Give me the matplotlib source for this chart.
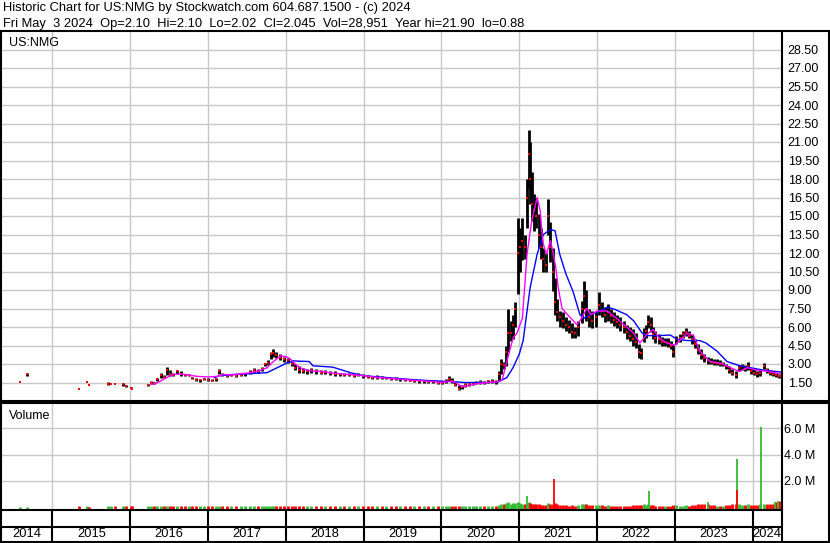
import matplotlib
matplotlib.use("Agg")
import matplotlib.pyplot as plt
import numpy as np

# ---- price bars (fractional year, high, low, close) and volume in millions ----
dates = [2014.59, 2014.68, 2015.34, 2015.44, 2015.47, 2015.72, 2015.76, 2015.80, 2015.91, 2015.95, 2016.01, 2016.02,
         2016.23, 2016.27, 2016.31, 2016.35, 2016.39, 2016.43, 2016.47, 2016.51, 2016.55, 2016.60, 2016.65, 2016.70,
         2016.75, 2016.80, 2016.85, 2016.90, 2016.95,
         2017.00, 2017.05, 2017.10, 2017.14, 2017.18, 2017.24, 2017.30, 2017.36, 2017.42, 2017.48, 2017.54, 2017.59,
         2017.64, 2017.69, 2017.73, 2017.77, 2017.81, 2017.84, 2017.88, 2017.93, 2017.98,
         2018.03, 2018.08, 2018.12, 2018.17, 2018.22, 2018.27, 2018.33, 2018.39, 2018.45, 2018.51, 2018.57, 2018.63,
         2018.69, 2018.75, 2018.81, 2018.87, 2018.93, 2018.99,
         2019.05, 2019.11, 2019.17, 2019.23, 2019.29, 2019.35, 2019.41, 2019.47, 2019.53, 2019.59, 2019.65, 2019.71,
         2019.77, 2019.83, 2019.89, 2019.95,
         2020.01, 2020.06, 2020.10, 2020.14, 2020.18, 2020.22, 2020.26, 2020.30, 2020.35, 2020.40, 2020.45, 2020.50,
         2020.55, 2020.60, 2020.65, 2020.70, 2020.74, 2020.77, 2020.80, 2020.83, 2020.86, 2020.89, 2020.92, 2020.95,
         2020.98,
         2021.01, 2021.04, 2021.07, 2021.10, 2021.12, 2021.14, 2021.16, 2021.19, 2021.22, 2021.25, 2021.28, 2021.31,
         2021.34, 2021.37, 2021.40, 2021.43, 2021.46, 2021.49, 2021.52, 2021.56, 2021.60, 2021.64, 2021.68, 2021.72,
         2021.76, 2021.80, 2021.83, 2021.86, 2021.90, 2021.94, 2021.98,
         2022.02, 2022.06, 2022.10, 2022.14, 2022.18, 2022.22, 2022.26, 2022.30, 2022.34, 2022.38, 2022.42, 2022.46,
         2022.50, 2022.54, 2022.57, 2022.60, 2022.63, 2022.66, 2022.69, 2022.72, 2022.75, 2022.79, 2022.83, 2022.87,
         2022.91, 2022.95, 2022.98,
         2023.02, 2023.06, 2023.10, 2023.14, 2023.18, 2023.22, 2023.26, 2023.30, 2023.34, 2023.38, 2023.42, 2023.46,
         2023.50, 2023.54, 2023.58, 2023.62, 2023.66, 2023.70, 2023.74, 2023.78, 2023.82, 2023.86, 2023.90, 2023.94,
         2023.98,
         2024.02, 2024.06, 2024.10, 2024.14, 2024.18, 2024.22, 2024.26, 2024.30, 2024.34, 2024.36]

highs = [1.57, 2.25, 1.00, 1.57, 1.32, 1.55, 1.40, 1.40, 1.45, 1.30, 1.10, 1.00,
         1.35, 1.60, 1.55, 1.90, 2.30, 2.10, 2.75, 2.50, 2.30, 2.55, 2.40, 2.20, 2.20, 1.95, 1.90, 1.80, 1.85,
         1.85, 1.75, 1.85, 2.60, 2.30, 2.20, 2.20, 2.15, 2.20, 2.30, 2.50, 2.70, 2.60, 2.75, 3.10, 3.30, 4.00, 4.20,
         4.00, 3.80, 3.60,
         3.50, 3.30, 3.00, 2.80, 2.70, 2.60, 2.70, 2.60, 2.50, 2.50, 2.40, 2.40, 2.30, 2.30, 2.25, 2.20, 2.30, 2.20,
         2.10, 2.00, 2.10, 2.00, 1.95, 1.90, 1.95, 1.85, 1.80, 1.80, 1.75, 1.70, 1.70, 1.65, 1.70, 1.60,
         1.60, 1.75, 2.00, 1.90, 1.60, 1.30, 1.30, 1.45, 1.50, 1.55, 1.60, 1.70, 1.65, 1.70, 1.75, 1.70, 2.40, 3.40,
         3.20, 4.50, 7.50, 6.50, 7.00, 8.00, 14.8,
         14.0, 14.8, 13.5, 18.0, 22.0, 21.0, 18.6, 16.8, 16.5, 15.2, 14.0, 12.4, 12.0, 16.4, 14.5, 12.4, 10.0, 8.3,
         7.3, 7.2, 6.8, 6.6, 6.3, 6.0, 6.5, 8.1, 9.7, 9.0, 7.5, 7.3, 7.2,
         8.8, 8.0, 7.6, 7.9, 7.5, 7.2, 7.0, 6.8, 6.5, 6.2, 6.0, 5.8, 5.5, 4.6, 4.3, 5.9, 6.2, 7.0, 6.8, 6.0, 5.7,
         5.4, 5.2, 5.1, 5.1, 4.9, 4.6,
         5.3, 5.4, 5.7, 5.9, 5.7, 5.4, 5.0, 4.6, 4.2, 3.8, 3.6, 3.5, 3.4, 3.4, 3.3, 3.2, 3.0, 2.8, 2.6, 2.4, 2.9,
         3.0, 2.9, 3.2, 2.7,
         2.6, 2.4, 2.5, 3.1, 2.7, 2.5, 2.4, 2.3, 2.2, 2.1]

lows = [1.57, 2.00, 1.00, 1.57, 1.32, 1.30, 1.35, 1.35, 1.25, 1.15, 1.05, 0.95,
        1.25, 1.40, 1.40, 1.60, 1.90, 1.85, 2.10, 2.00, 2.00, 2.20, 2.05, 2.00, 2.05, 1.80, 1.60, 1.55, 1.70,
        1.60, 1.60, 1.65, 2.20, 2.00, 1.95, 2.00, 1.95, 2.00, 2.05, 2.20, 2.30, 2.30, 2.40, 2.80, 2.90, 3.40, 3.60,
        3.50, 3.30, 3.20,
        3.10, 2.80, 2.50, 2.30, 2.30, 2.20, 2.30, 2.20, 2.20, 2.20, 2.10, 2.00, 2.00, 2.00, 2.00, 1.95, 2.00, 1.90,
        1.85, 1.80, 1.80, 1.75, 1.75, 1.70, 1.70, 1.65, 1.60, 1.60, 1.55, 1.50, 1.50, 1.45, 1.45, 1.40,
        1.40, 1.50, 1.60, 1.50, 1.20, 0.88, 0.95, 1.15, 1.20, 1.30, 1.35, 1.40, 1.40, 1.45, 1.45, 1.40, 1.60, 2.20,
        2.60, 2.80, 4.00, 4.90, 5.00, 6.00, 8.70,
        10.5, 11.4, 11.5, 14.0, 17.3, 16.0, 14.6, 13.8, 14.0, 12.4, 11.5, 10.5, 10.5, 13.5, 11.3, 8.9, 7.0, 6.5,
        6.0, 5.9, 5.7, 5.5, 5.1, 5.1, 5.3, 6.3, 7.5, 6.5, 6.0, 5.9, 6.0,
        7.0, 6.8, 6.4, 6.5, 6.3, 6.1, 5.9, 5.7, 5.5, 5.0, 4.9, 4.5, 4.3, 3.5, 3.4, 4.8, 5.1, 5.9, 5.6, 5.0, 4.7,
        4.6, 4.5, 4.5, 4.4, 4.2, 3.6,
        4.6, 4.8, 5.1, 5.3, 5.1, 4.6, 4.3, 3.8, 3.4, 3.2, 3.0, 3.0, 2.9, 2.9, 2.8, 2.8, 2.6, 2.3, 2.1, 1.87, 2.4,
        2.5, 2.4, 2.5, 2.2,
        2.1, 1.95, 2.0, 2.6, 2.3, 2.1, 2.0, 1.95, 1.9, 2.02]

closes = [1.57, 2.20, 1.00, 1.57, 1.32, 1.40, 1.40, 1.35, 1.35, 1.20, 1.05, 1.00,
          1.30, 1.50, 1.45, 1.80, 2.10, 1.95, 2.50, 2.20, 2.10, 2.40, 2.20, 2.10, 2.10, 1.90, 1.70, 1.70, 1.80,
          1.70, 1.65, 1.80, 2.40, 2.10, 2.05, 2.10, 2.00, 2.10, 2.20, 2.35, 2.50, 2.45, 2.60, 3.00, 3.10, 3.80, 3.90,
          3.70, 3.50, 3.40,
          3.30, 3.00, 2.70, 2.50, 2.40, 2.40, 2.50, 2.40, 2.30, 2.35, 2.25, 2.20, 2.20, 2.10, 2.10, 2.05, 2.10, 2.00,
          1.95, 1.90, 1.90, 1.85, 1.85, 1.80, 1.75, 1.75, 1.70, 1.65, 1.65, 1.60, 1.60, 1.55, 1.60, 1.50,
          1.50, 1.60, 1.80, 1.60, 1.30, 1.00, 1.15, 1.30, 1.35, 1.45, 1.50, 1.55, 1.50, 1.60, 1.60, 1.55, 2.20, 3.00,
          2.90, 4.00, 5.50, 5.50, 6.20, 7.50, 12.0,
          12.5, 13.0, 12.5, 16.5, 20.0, 18.0, 16.0, 15.5, 15.0, 13.5, 12.5, 11.5, 11.0, 15.0, 12.5, 10.5, 8.0, 7.2,
          6.8, 6.5, 6.2, 6.0, 5.6, 5.5, 6.0, 7.5, 8.5, 7.5, 6.8, 6.5, 6.8,
          7.8, 7.3, 7.0, 7.2, 6.9, 6.6, 6.4, 6.2, 6.0, 5.6, 5.3, 5.0, 4.8, 4.0, 3.9, 5.4, 5.7, 6.4, 6.2, 5.4, 5.1,
          5.0, 4.8, 4.8, 4.7, 4.5, 4.0,
          5.0, 5.1, 5.4, 5.6, 5.3, 5.0, 4.6, 4.1, 3.7, 3.5, 3.3, 3.2, 3.1, 3.1, 3.0, 3.0, 2.8, 2.5, 2.3, 2.1, 2.7,
          2.8, 2.6, 2.8, 2.4,
          2.3, 2.2, 2.3, 2.8, 2.5, 2.3, 2.2, 2.1, 2.05, 2.045]

volumes = [0.02, 0.02, 0.03, 0.03, 0.02, 0.04, 0.03, 0.03, 0.04, 0.03, 0.03, 0.03,
           0.04, 0.05, 0.04, 0.06, 0.07, 0.05, 0.08, 0.06, 0.05, 0.06, 0.05, 0.04, 0.04, 0.05, 0.05, 0.04, 0.04,
           0.04, 0.04, 0.05, 0.07, 0.05, 0.04, 0.04, 0.04, 0.04, 0.05, 0.05, 0.06, 0.05, 0.06, 0.07, 0.07, 0.09, 0.09,
           0.08, 0.07, 0.06,
           0.06, 0.06, 0.05, 0.05, 0.05, 0.04, 0.04, 0.04, 0.04, 0.04, 0.03, 0.04, 0.03, 0.04, 0.03, 0.03, 0.04, 0.03,
           0.03, 0.03, 0.04, 0.03, 0.03, 0.03, 0.03, 0.03, 0.03, 0.03, 0.03, 0.03, 0.03, 0.03, 0.04, 0.03,
           0.03, 0.04, 0.06, 0.05, 0.05, 0.06, 0.05, 0.04, 0.04, 0.04, 0.04, 0.04, 0.04, 0.05, 0.06, 0.08, 0.15, 0.25,
           0.20, 0.30, 0.35, 0.25, 0.30, 0.28, 0.35,
           0.30, 0.25, 0.20, 0.30, 0.35, 0.30, 0.25, 0.20, 0.20, 0.20, 0.15, 0.15, 0.15, 0.30, 0.20, 0.25, 0.30, 0.20,
           0.15, 0.12, 0.12, 0.10, 0.12, 0.10, 0.12, 0.20, 0.25, 0.20, 0.15, 0.12, 0.12,
           0.15, 0.12, 0.10, 0.12, 0.10, 0.10, 0.10, 0.08, 0.08, 0.10, 0.10, 0.12, 0.12, 0.18, 0.15, 0.20, 0.15, 0.20,
           0.15, 0.12, 0.10, 0.10, 0.08, 0.08, 0.08, 0.10, 0.12,
           0.12, 0.10, 0.10, 0.12, 0.10, 0.12, 0.15, 0.20, 0.25, 0.20, 0.25, 0.15, 0.12, 0.10, 0.10, 0.10, 0.12, 0.15,
           0.20, 0.25, 0.20, 0.15, 0.15, 0.20, 0.15,
           0.15, 0.15, 0.20, 0.25, 0.20, 0.20, 0.25, 0.35, 0.45, 0.03]

# large single-day volume spikes (millions)
spike_t = [2021.10, 2021.45, 2022.67, 2023.42, 2023.80, 2023.80, 2024.11, 2024.29, 2024.33]
spike_v = [0.80, 2.10, 1.20, 0.40, 3.65, 1.30, 6.10, 0.35, 0.45]
spike_up = [True, False, True, True, True, False, True, True, True]

# moving averages
fast_t = [2016.27, 2016.32, 2016.40, 2016.47, 2016.55, 2016.65, 2016.75, 2016.86, 2017.00, 2017.12, 2017.20,
          2017.30, 2017.41, 2017.55, 2017.66, 2017.76, 2017.84, 2017.93, 2018.00, 2018.05, 2018.12, 2018.18,
          2018.30, 2018.45, 2018.61, 2018.83, 2019.00, 2019.20, 2019.40, 2019.60, 2019.85, 2020.00, 2020.10,
          2020.17, 2020.25, 2020.32, 2020.45, 2020.60, 2020.72, 2020.78, 2020.84, 2020.92, 2020.97, 2021.04,
          2021.10, 2021.16, 2021.23, 2021.27, 2021.29, 2021.31, 2021.35, 2021.40, 2021.43, 2021.47, 2021.50,
          2021.55, 2021.62, 2021.74, 2021.78, 2021.87, 2021.92, 2022.00, 2022.13, 2022.25, 2022.38, 2022.47,
          2022.55, 2022.64, 2022.72, 2022.80, 2022.90, 2023.00, 2023.06, 2023.16, 2023.24, 2023.32, 2023.45,
          2023.60, 2023.75, 2023.83, 2023.93, 2024.05, 2024.20, 2024.36]
fast_v = [1.35, 1.40, 1.65, 1.90, 2.15, 2.20, 2.10, 2.00, 1.95, 2.00, 2.15,
          2.10, 2.20, 2.30, 2.45, 2.70, 3.20, 3.65, 3.60, 3.45, 3.00, 2.70,
          2.45, 2.40, 2.25, 2.15, 2.05, 1.90, 1.80, 1.70, 1.60, 1.50, 1.60,
          1.55, 1.20, 1.20, 1.40, 1.50, 1.55, 1.70, 3.20, 5.10, 5.50, 6.70,
          11.9, 14.6, 16.5, 15.4, 13.8, 12.7, 11.9, 13.0, 12.2, 10.8, 9.2,
          7.5, 7.0, 6.2, 6.5, 7.5, 7.0, 7.3, 7.3, 6.7, 6.0, 5.5,
          4.7, 5.4, 5.8, 5.1, 4.7, 4.5, 4.9, 5.5, 5.3, 4.05, 3.2,
          3.05, 2.6, 2.4, 2.7, 2.5, 2.4, 2.2]

slow_t = [2017.08, 2017.15, 2017.32, 2017.50, 2017.76, 2017.89, 2018.02, 2018.10, 2018.30, 2018.35, 2018.60,
          2018.83, 2019.00, 2019.30, 2019.60, 2019.85, 2020.05, 2020.30, 2020.60, 2020.73, 2020.84, 2020.92,
          2021.00, 2021.05, 2021.14, 2021.23, 2021.31, 2021.40, 2021.46, 2021.52, 2021.60, 2021.69, 2021.78,
          2021.83, 2021.91, 2022.04, 2022.13, 2022.22, 2022.38, 2022.47, 2022.58, 2022.65, 2022.80, 2022.94,
          2023.03, 2023.16, 2023.32, 2023.40, 2023.54, 2023.67, 2023.84, 2023.97, 2024.14, 2024.36]
slow_v = [1.90, 2.05, 2.15, 2.20, 2.30, 2.70, 3.10, 3.25, 3.20, 2.85, 2.75,
          2.30, 2.05, 1.90, 1.75, 1.65, 1.60, 1.50, 1.50, 1.55, 1.90, 2.70,
          3.80, 4.90, 9.20, 11.9, 13.5, 13.9, 13.8, 11.9, 10.3, 8.9, 7.0,
          6.7, 7.0, 7.3, 7.6, 7.45, 7.0, 6.5, 5.5, 5.3, 5.3, 5.35,
          5.0, 4.9, 4.9, 4.7, 4.05, 3.2, 2.85, 2.7, 2.5, 2.35]

years = [2014, 2015, 2016, 2017, 2018, 2019, 2020, 2021, 2022, 2023, 2024]
price_ticks = [1.5, 3, 4.5, 6, 7.5, 9, 10.5, 12, 13.5, 15, 16.5, 18, 19.5, 21, 22.5, 24, 25.5, 27, 28.5]
vol_ticks = [2, 4, 6]

title1 = "Historic Chart for US:NMG by Stockwatch.com 604.687.1500 - (c) 2024"
title2 = "Fri May  3 2024  Op=2.10  Hi=2.10  Lo=2.02  Cl=2.045  Vol=28,951  Year hi=21.90  lo=0.88"

plt.rcParams['font.family'] = ['Liberation Sans', 'DejaVu Sans']
plt.rcParams['font.size'] = 9

W, H = 830, 543
fig = plt.figure(figsize=(W / 100, H / 100), dpi=100)
fig.patch.set_facecolor('white')


def box(x0, y0, x1, y1):
    return [x0 / W, 1 - y1 / H, (x1 - x0) / W, (y1 - y0) / H]


XL = (2014.34, 2024.37)
grid_c = '#c8c8c8'

# price panel
ax = fig.add_axes(box(1, 31, 781.5, 401))
ax.set_xlim(*XL)
ax.set_ylim(0, 30)
ax.set_xticks(years[1:])
ax.set_xticklabels([])
ax.set_yticks(price_ticks)
ax.set_yticklabels(["%.2f" % v for v in price_ticks])
ax.yaxis.tick_right()
ax.tick_params(length=0, pad=4.5, labelsize=9)
ax.grid(True, color=grid_c, lw=1.0)
ax.set_axisbelow(True)
for s in ax.spines.values():
    s.set_visible(False)

ax.vlines(dates, lows, highs, color='black', lw=2.0, zorder=3)
ax.plot(dates, closes, 's', color='red', ms=1.7, mew=0, zorder=4)
ax.plot(slow_t, slow_v, color='#0000ff', lw=1.0, zorder=5)
ax.plot(fast_t, fast_v, color='#ff00ff', lw=1.0, zorder=6)
ax.text(0.01, 0.985, "US:NMG", transform=ax.transAxes, va='top', ha='left', fontsize=9)

# volume panel
axv = fig.add_axes(box(1, 403, 781.5, 509.5))
axv.set_xlim(*XL)
axv.set_ylim(-0.2, 7.95)
axv.set_xticks(years[1:])
axv.set_xticklabels([])
axv.set_yticks(vol_ticks)
axv.set_yticklabels(["%.1f M" % v for v in vol_ticks])
axv.yaxis.tick_right()
axv.tick_params(length=0, pad=2, labelsize=9)
axv.grid(True, color=grid_c, lw=1.0)
axv.set_axisbelow(True)
for s in axv.spines.values():
    s.set_visible(False)

up = [True] + [closes[i] >= closes[i - 1] for i in range(1, len(closes))]
vcol = ['#33bb33' if u else '#ff0000' for u in up]
axv.vlines(dates, -0.2, volumes, colors=vcol, lw=2.0, zorder=3)
scol = ['#33bb33' if u else '#ff0000' for u in spike_up]
axv.vlines(spike_t, -0.2, spike_v, colors=scol, lw=1.3, zorder=4)
axv.text(0.01, 0.93, "Volume", transform=axv.transAxes, va='top', ha='left', fontsize=9)

# year strip
axy = fig.add_axes(box(1, 509.5, 781.5, 542))
axy.set_xlim(*XL)
axy.set_ylim(0, 1)
axy.axis('off')
axy.vlines(years[1:], 0, 1, color='black', lw=1.5)
edges = [XL[0]] + years[1:] + [XL[1]]
for i, y in enumerate(years):
    axy.text((edges[i] + edges[i + 1]) / 2, 0.24, str(y), ha='center', va='center', fontsize=9.3)

# frame lines in pixel space
ov = fig.add_axes([0, 0, 1, 1], zorder=10)
ov.set_xlim(0, W)
ov.set_ylim(H, 0)
ov.axis('off')
ov.patch.set_alpha(0)
k = dict(color='black', lw=1.5, solid_capstyle='butt')
ov.plot([0, W], [31, 31], **k)
ov.plot([0, W], [401, 401], **k)
ov.plot([0, W], [403, 403], **k)
ov.plot([0, 781.5], [509.5, 509.5], **k)
ov.plot([0, 781.5], [527, 527], **k)
ov.plot([0, W], [542, 542], **k)
ov.plot([1, 1], [31, 543], **k)
ov.plot([781.5, 781.5], [31, 543], **k)
ov.plot([829, 829], [31, 543], **k)

fig.text(3 / W, 1 - 11 / H, title1, va='baseline', ha='left', fontsize=9.3)
fig.text(3 / W, 1 - 27.5 / H, title2, va='baseline', ha='left', fontsize=9.3)

fig.savefig("out.png", dpi=100)
